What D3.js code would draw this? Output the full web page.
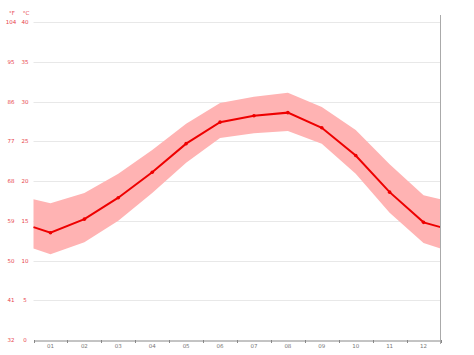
<!DOCTYPE html>
<html>
<head>
<meta charset="utf-8">
<script src="https://cdn.jsdelivr.net/npm/d3@7"></script>
<style>
  body { margin: 0; background: #fff; }
  svg { display: block; font-family: "DejaVu Sans", sans-serif; }
</style>
</head>
<body>
<svg width="474" height="355"></svg>
<script>
const months = ['01', '02', '03', '04', '05', '06', '07', '08', '09', '10', '11', '12'];
const meanTemp = [13.5, 15.2, 17.9, 21.1, 24.7, 27.4, 28.2, 28.6, 26.7, 23.2, 18.6, 14.8];
const highTemp = [17.2, 18.5, 20.9, 23.9, 27.2, 29.8, 30.6, 31.1, 29.3, 26.4, 22.1, 18.2];
const lowTemp = [10.8, 12.3, 15.0, 18.5, 22.3, 25.4, 26.0, 26.3, 24.7, 20.9, 16.0, 12.2];
// values at the left/right edges of the plot (year wrap)
const edgeMean = 14.2;
const edgeHigh = 17.7;
const edgeLow = 11.5;
const celsiusTicks = [0, 5, 10, 15, 20, 25, 30, 35, 40];
const fahrenheitTicks = ['32', '41', '50', '59', '68', '77', '86', '95', '104'];

const svg = d3.select('svg');
const plotLeft = 33.5, plotRight = 440.5, plotTop = 22, plotBottom = 340;

const x = d3.scaleBand().domain(months).range([plotLeft, plotRight]);
const y = d3.scaleLinear().domain([0, 40]).range([plotBottom, plotTop]);

// gridlines
svg.append('g')
  .selectAll('line')
  .data(celsiusTicks.filter(d => d > 0))
  .join('line')
  .attr('x1', plotLeft)
  .attr('x2', plotRight)
  .attr('y1', d => Math.round(y(d)) + 0.5)
  .attr('y2', d => Math.round(y(d)) + 0.5)
  .style('stroke', '#e8e8e8')
  .style('stroke-width', 1);

// points incl. edges
const pts = [{ x: plotLeft, mean: edgeMean, hi: edgeHigh, lo: edgeLow }]
  .concat(months.map((m, i) => ({ x: x(m) + x.bandwidth() / 2, mean: meanTemp[i], hi: highTemp[i], lo: lowTemp[i] })))
  .concat([{ x: plotRight, mean: edgeMean, hi: edgeHigh, lo: edgeLow }]);

svg.append('path')
  .datum(pts)
  .attr('d', d3.area().x(d => d.x).y0(d => y(d.lo)).y1(d => y(d.hi)))
  .style('fill', '#ffb3b3');

svg.append('path')
  .datum(pts)
  .attr('d', d3.line().x(d => d.x).y(d => y(d.mean)))
  .style('fill', 'none')
  .style('stroke', '#ee0000')
  .style('stroke-width', 2);

svg.append('g')
  .selectAll('circle')
  .data(pts.slice(1, -1))
  .join('circle')
  .attr('cx', d => d.x)
  .attr('cy', d => y(d.mean))
  .attr('r', 1.8)
  .style('fill', '#ee0000');

// bottom axis
const xAxis = svg.append('g')
  .attr('transform', `translate(0,${plotBottom + 0.5})`)
  .call(d3.axisBottom(x).tickSize(0).tickPadding(4));
xAxis.select('.domain').style('stroke', '#888');
xAxis.selectAll('text').style('font-size', '5.5px').style('fill', '#777').style('font-family', 'DejaVu Sans');

svg.append('g')
  .selectAll('line')
  .data(d3.range(months.length + 1))
  .join('line')
  .attr('x1', d => Math.round(plotLeft + d * x.step()) + 0.5)
  .attr('x2', d => Math.round(plotLeft + d * x.step()) + 0.5)
  .attr('y1', plotBottom)
  .attr('y2', plotBottom + 3)
  .style('stroke', '#888');

// right border
svg.append('line')
  .attr('x1', 440.5).attr('x2', 440.5)
  .attr('y1', 15).attr('y2', plotBottom + 4)
  .style('stroke', '#aaa')
  .style('stroke-width', 1);

// left labels
const lab = svg.append('g').style('font-size', '5.5px').style('fill', '#e8434c');
lab.selectAll('.c')
  .data(celsiusTicks)
  .join('text')
  .attr('class', 'c')
  .attr('x', 25)
  .attr('y', d => y(d) + 2)
  .attr('text-anchor', 'middle')
  .text(d => d);
lab.selectAll('.f')
  .data(fahrenheitTicks)
  .join('text')
  .attr('class', 'f')
  .attr('x', 11)
  .attr('y', (d, i) => y(celsiusTicks[i]) + 2)
  .attr('text-anchor', 'middle')
  .text(d => d);
lab.append('text').attr('x', 12).attr('y', 15).attr('text-anchor', 'middle').text('°F');
lab.append('text').attr('x', 26).attr('y', 15).attr('text-anchor', 'middle').text('°C');
</script>
</body>
</html>
